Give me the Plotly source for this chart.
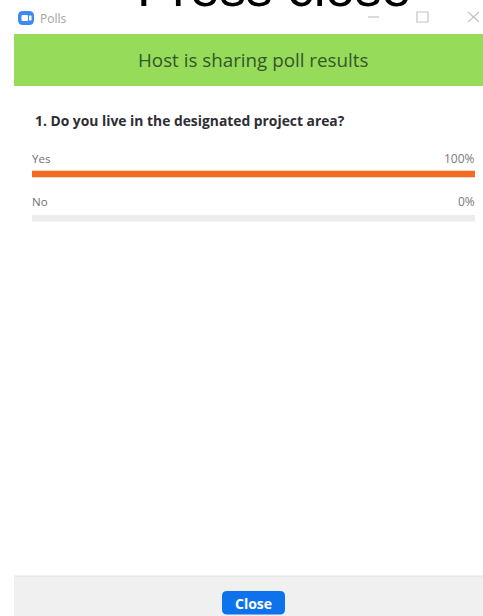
import plotly.graph_objects as go

W, H = 483, 616

# Data
categories = ["Yes", "No"]
values = [100, 0]
track = [100, 100]
value_labels = ["100%", "0%"]
question = "1. Do you live in the designated project area?"
banner = "Host is sharing poll results"
window_title = "Polls"
caption = "Press close"
button_label = "Close"

ORANGE = "#f26d21"
TRACK = "#ececec"
GREEN = "#96dc5a"
FOOT = "#f0f0f0"
BLUE = "#0e72ed"
FONT = "Open Sans, Noto Sans, sans-serif"


def px(x):
    return x / W


def py(y):
    return 1 - y / H


def rect(x0, y0, x1, y1, color):
    return dict(type="rect", xref="paper", yref="paper", layer="below",
                x0=px(x0), x1=px(x1), y0=py(y0), y1=py(y1),
                fillcolor=color, line_width=0)


def rrect(x0, y0, x1, y1, r, color, layer="below"):
    a, b, c, d = px(x0), px(x1), py(y0), py(y1)
    rx, ry = r / W, r / H
    path = (f"M {a+rx} {c} L {b-rx} {c} Q {b} {c} {b} {c-ry} L {b} {d+ry} Q {b} {d} {b-rx} {d} "
            f"L {a+rx} {d} Q {a} {d} {a} {d+ry} L {a} {c-ry} Q {a} {c} {a+rx} {c} Z")
    return dict(type="path", xref="paper", yref="paper", layer=layer, path=path,
                fillcolor=color, line_width=0)


def line(x0, y0, x1, y1, color, w=1.2):
    return dict(type="line", xref="paper", yref="paper", layer="above",
                x0=px(x0), x1=px(x1), y0=py(y0), y1=py(y1),
                line=dict(color=color, width=w))


def text(x, y, s, size, color, anchor="left", bold=False, family=FONT, yanchor="middle"):
    return dict(xref="paper", yref="paper", x=px(x), y=py(y), text=f"<b>{s}</b>" if bold else s,
                showarrow=False, xanchor=anchor, yanchor=yanchor,
                font=dict(size=size, color=color, family=family),
                borderpad=0, borderwidth=0)


fig = go.Figure()
fig.add_bar(y=categories, x=track, orientation="h", marker=dict(color=TRACK, line_width=0),
            width=0.147, hoverinfo="skip")
fig.add_bar(y=categories, x=values, orientation="h", marker=dict(color=ORANGE, line_width=0),
            width=0.147)

shapes = [
    rect(14, 34, W, 86, GREEN),
    rect(14, 576, W, H, FOOT),
    line(14, 576, W, 576, "#e2e2e2", 1),
    rrect(18, 11, 34, 25, 5, "#3d8bf2", "above"),
    rrect(21.5, 15, 28, 21, 1, "#ffffff", "above"),
    rrect(29, 15.5, 31.5, 20.5, 0.5, "#ffffff", "above"),
    rrect(222, 591, 285, 614.5, 5, BLUE, "above"),
    line(368, 17, 379, 17, "#c4c4c4"),
    dict(type="rect", xref="paper", yref="paper", layer="above",
         x0=px(417), x1=px(428), y0=py(12), y1=py(22), line=dict(color="#c4c4c4", width=1.2)),
    line(468, 12, 479, 22, "#c4c4c4"),
    line(468, 22, 479, 12, "#c4c4c4"),
]

annotations = [
    text(273.5, 17, caption, 53, "#000000", "center", family="Liberation Sans, Arial, sans-serif", yanchor="bottom"),
    text(40, 18, window_title, 12, "#a3a3a3"),
    text(253, 60.5, banner, 18.8, "#35562a", "center"),
    text(35, 121, question, 13.85, "#2e2e33", bold=True),
    text(253, 603, button_label, 14, "#ffffff", "center", bold=True),
]
for i, (c, v) in enumerate(zip(categories, value_labels)):
    yy = 158 + 43.5 * i
    annotations.append(text(32, yy, c, 11.5, "#6f6f6f"))
    annotations.append(text(475, yy, v, 12, "#7a7a7a", "right"))

fig.update_layout(
    width=W, height=H, margin=dict(l=0, r=0, t=0, b=0, pad=0), barmode="overlay",
    paper_bgcolor="#ffffff", plot_bgcolor="rgba(0,0,0,0)", showlegend=False,
    shapes=shapes, annotations=annotations,
    xaxis=dict(domain=[px(32), px(475)], range=[0, 100], visible=False, fixedrange=True),
    yaxis=dict(domain=[0, 1], type="category", categoryorder="array", categoryarray=categories,
               range=[9.977, -3.928], visible=False, fixedrange=True),
)
fig.write_html("out.html", config=dict(displayModeBar=False),
               post_script="document.body.style.margin='0';document.body.style.overflow='hidden';")
